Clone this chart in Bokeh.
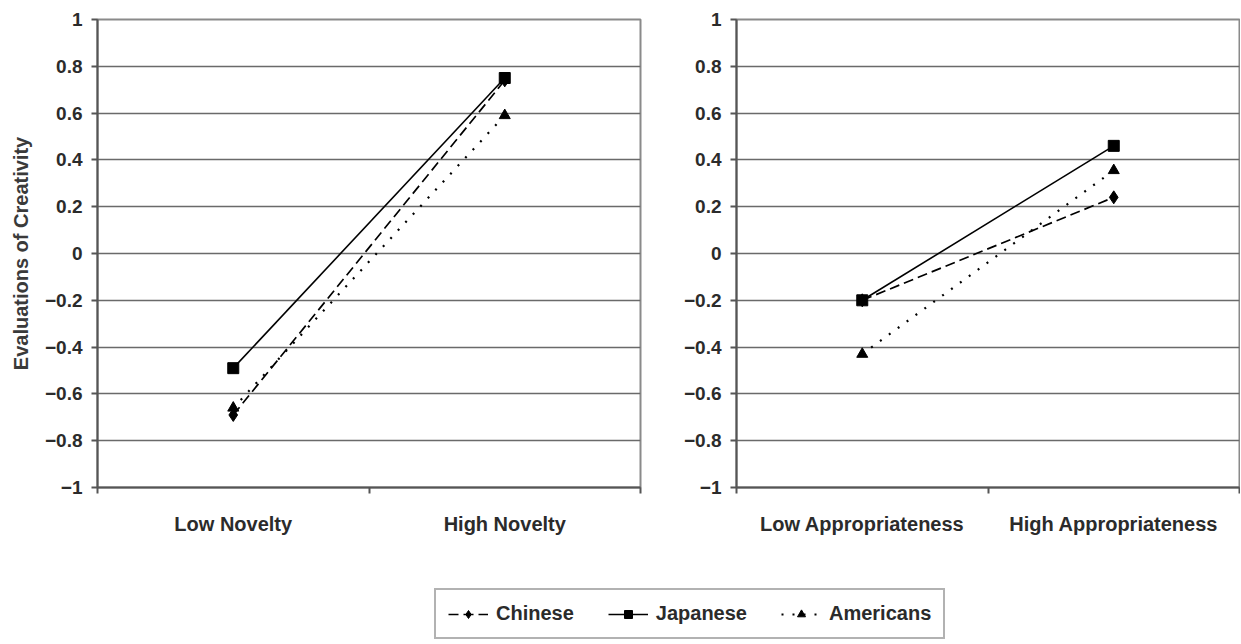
from bokeh.plotting import figure
from bokeh.models import FixedTicker, Range1d, Legend, LegendItem
from bokeh.layouts import column, row
from bokeh.embed import file_html
from bokeh.resources import INLINE

# ---------------- data ----------------
categories_left = ["Low Novelty", "High Novelty"]
categories_right = ["Low Appropriateness", "High Appropriateness"]

chinese_left = [-0.69, 0.74]
japanese_left = [-0.49, 0.75]
americans_left = [-0.66, 0.59]

chinese_right = [-0.20, 0.24]
japanese_right = [-0.20, 0.46]
americans_right = [-0.43, 0.355]

series_names = ["Chinese", "Japanese", "Americans"]

y_ticks = [-1, -0.8, -0.6, -0.4, -0.2, 0, 0.2, 0.4, 0.6, 0.8, 1]
y_tick_labels = ["\u22121", "\u22120.8", "\u22120.6", "\u22120.4", "\u22120.2",
                 "0", "0.2", "0.4", "0.6", "0.8", "1"]
y_title = "Evaluations of Creativity"

# ---------------- styles ----------------
FONT = "Liberation Sans"
TEXT = "#2b2b2b"
styles = {
    "Chinese": dict(dash="10 5", marker="diamond", size=13, lw=1.7),
    "Japanese": dict(dash="solid", marker="square", size=11, lw=1.6),
    "Americans": dict(dash="2 9", marker="triangle", size=11, lw=2.2),
}


def make_panel(categories, data, width, border_left, border_right, with_title):
    n = len(categories)
    xs = [i + 0.5 for i in range(n)]
    p = figure(width=width, height=548, output_backend="svg", toolbar_location=None,
               x_range=Range1d(0, n), y_range=Range1d(-1, 1),
               min_border_left=border_left, min_border_right=border_right,
               min_border_top=19, min_border_bottom=61)
    p.background_fill_color = "white"
    p.border_fill_color = "white"
    p.outline_line_color = "#8a8a8a"
    p.outline_line_width = 2

    # x axis
    xa = p.xaxis[0]
    xa.ticker = FixedTicker(ticks=xs, minor_ticks=list(range(n + 1)))
    xa.major_label_overrides = {x: c for x, c in zip(xs, categories)}
    xa.major_tick_out = 0
    xa.major_tick_in = 0
    xa.minor_tick_out = 6
    xa.minor_tick_in = 0
    xa.minor_tick_line_color = "#555555"
    xa.minor_tick_line_width = 2
    xa.axis_line_color = "#555555"
    xa.axis_line_width = 2
    xa.major_label_standoff = 19
    xa.major_label_text_font = FONT
    xa.major_label_text_font_style = "bold"
    xa.major_label_text_font_size = "20px"
    xa.major_label_text_color = TEXT

    # y axis
    ya = p.yaxis[0]
    ya.ticker = FixedTicker(ticks=y_ticks)
    ya.major_label_overrides = {t: l for t, l in zip(y_ticks, y_tick_labels)}
    ya.major_tick_out = 6
    ya.major_tick_in = 0
    ya.minor_tick_out = 0
    ya.minor_tick_in = 0
    ya.major_tick_line_color = "#555555"
    ya.major_tick_line_width = 2
    ya.axis_line_color = "#555555"
    ya.axis_line_width = 2
    ya.major_label_standoff = 9
    ya.major_label_text_font = FONT
    ya.major_label_text_font_style = "bold"
    ya.major_label_text_font_size = "19px"
    ya.major_label_text_color = TEXT
    if with_title:
        ya.axis_label = y_title
        ya.axis_label_standoff = 10
        ya.axis_label_text_font = FONT
        ya.axis_label_text_font_style = "bold"
        ya.axis_label_text_font_size = "20px"
        ya.axis_label_text_color = "#3a3a3a"

    p.xgrid.grid_line_color = None
    p.ygrid.ticker = FixedTicker(ticks=y_ticks)
    p.ygrid.grid_line_color = "#6a6a6a"
    p.ygrid.grid_line_width = 1.6

    for name in series_names:
        st = styles[name]
        p.line(xs, data[name], line_color="black", line_width=st["lw"], line_dash=st["dash"])
        p.scatter(xs, data[name], marker=st["marker"], size=st["size"],
                  fill_color="black", line_color="black")
    return p


left_data = {"Chinese": chinese_left, "Japanese": japanese_left, "Americans": americans_left}
right_data = {"Chinese": chinese_right, "Japanese": japanese_right, "Americans": americans_right}

p1 = make_panel(categories_left, left_data,
                width=643, border_left=97, border_right=3, with_title=True)
p2 = make_panel(categories_right, right_data,
                width=597, border_left=93, border_right=1, with_title=False)

# legend panel (its renderers hold the data but lie outside the visible range)
p3 = figure(width=1240, height=92, output_backend="svg", toolbar_location=None,
            x_range=Range1d(100, 101), y_range=Range1d(100, 101),
            min_border_left=0, min_border_right=0, min_border_top=0, min_border_bottom=0)
p3.axis.visible = False
p3.grid.visible = False
p3.outline_line_color = None
items = []
for name in series_names:
    st = styles[name]
    xs = [i + 0.5 for i in range(len(categories_left))]
    ln = p3.line(xs, left_data[name], line_color="black", line_width=st["lw"], line_dash=st["dash"])
    sc = p3.scatter(xs, left_data[name], marker=st["marker"], size=st["size"] - 3,
                    fill_color="black", line_color="black")
    items.append(LegendItem(label=name, renderers=[ln, sc]))
legend = Legend(items=items, orientation="horizontal", location=(434, 1))
legend.border_line_color = "#666666"
legend.border_line_width = 2
legend.padding = 12
legend.spacing = 34
legend.margin = 0
legend.glyph_width = 40
legend.glyph_height = 20
legend.label_standoff = 8
legend.label_text_font = FONT
legend.label_text_font_style = "bold"
legend.label_text_font_size = "20px"
legend.label_text_color = TEXT
p3.add_layout(legend, "center")

layout = column(row(p1, p2, spacing=0), p3, spacing=0)

with open("out.html", "w") as f:
    f.write(file_html(layout, INLINE))
